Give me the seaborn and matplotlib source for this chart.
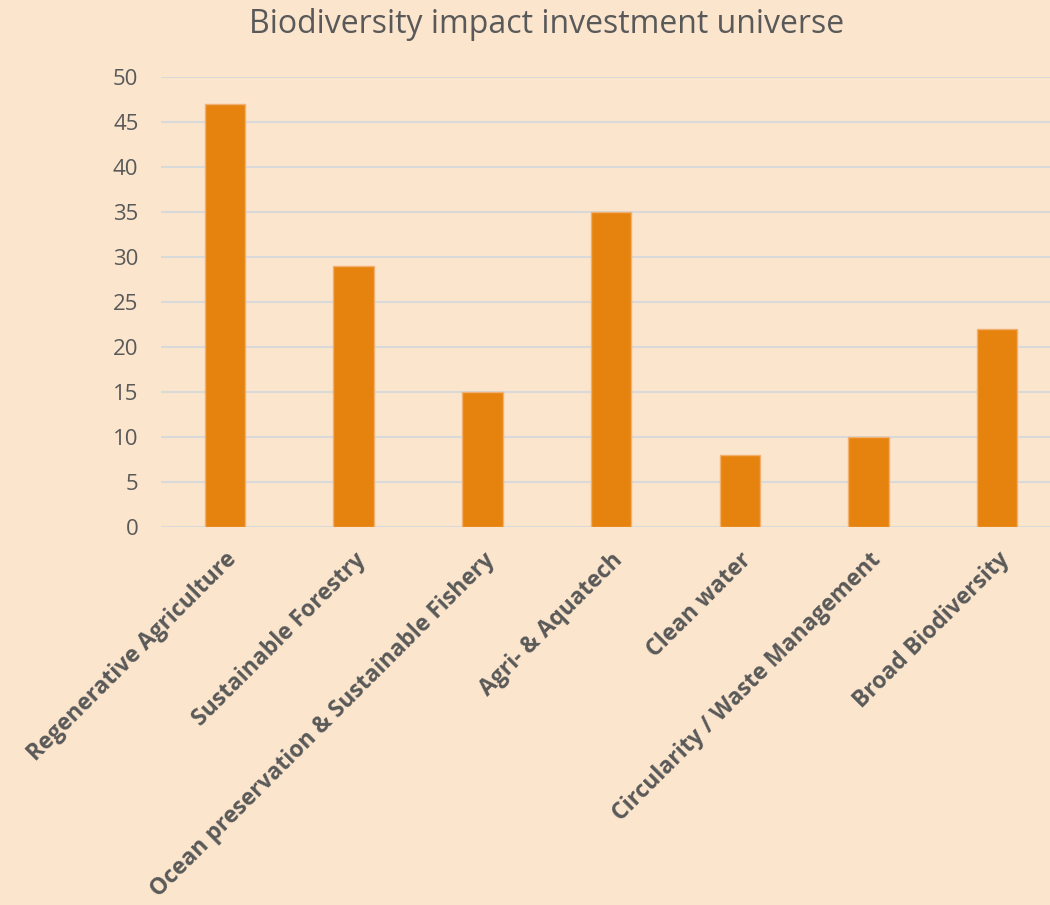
import seaborn as sns
import pandas as pd
from matplotlib import pyplot as plt

# data
categories = ['Regenerative Agriculture', 'Sustainable Forestry',
              'Ocean preservation & Sustainable Fishery', 'Agri- & Aquatech',
              'Clean water', 'Circularity / Waste Management', 'Broad Biodiversity']
counts = [47, 29, 15, 35, 8, 10, 22]
y_ticks = [0, 5, 10, 15, 20, 25, 30, 35, 40, 45, 50]

bg = '#FBE5CD'
bar_color = '#E6820E'
text_color = '#595959'

df = pd.DataFrame({'category': categories, 'count': counts})

sns.set_style('white')
plt.rcParams['font.family'] = ['Open Sans', 'DejaVu Sans']

fig = plt.figure(figsize=(10.5, 9.05), dpi=100, facecolor=bg)
ax = fig.add_axes([0.153, 0.4177, 0.858, 0.4973])
ax.set_facecolor(bg)

sns.barplot(data=df, x='category', y='count', color=bar_color, width=0.315,
            saturation=1, ax=ax, zorder=3, edgecolor='#F2B070', linewidth=1)

ax.set_ylim(0, 50)
ax.set_yticks(y_ticks)
ax.grid(axis='y', color='#D9D9D9', linewidth=1.5, zorder=0)
ax.set_axisbelow(True)
for s in ax.spines.values():
    s.set_visible(False)

ax.set_xlabel('')
ax.set_ylabel('')
ax.tick_params(axis='y', length=0, labelsize=16, labelcolor=text_color, pad=16)
ax.tick_params(axis='x', length=0, pad=15)
ax.set_xticks(range(len(categories)))
ax.set_xticklabels(categories, rotation=45, ha='right', rotation_mode='anchor',
                   fontsize=16.5, fontweight='bold', color=text_color)

fig.text(0.521, 0.973, 'Biodiversity impact investment universe', ha='center', va='center',
         fontsize=23, color=text_color)

plt.savefig('out.png', dpi=100, facecolor=bg)
plt.close()
